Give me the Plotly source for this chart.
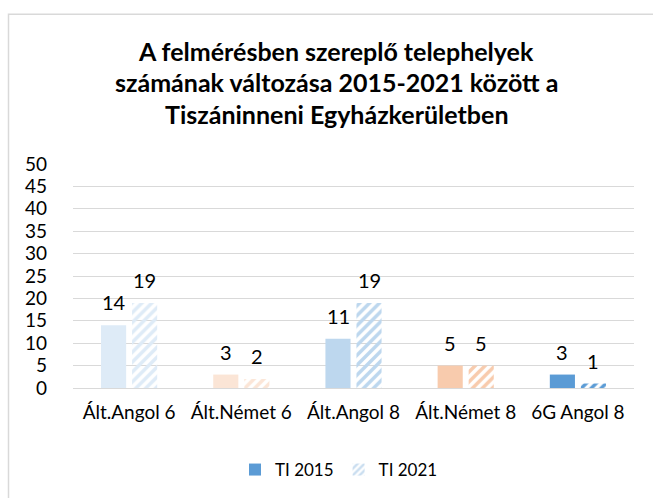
import plotly.graph_objects as go

categories = ["Ált.Angol 6", "Ált.Német 6", "Ált.Angol 8", "Ált.Német 8", "6G Angol 8"]
ti2015 = [14, 3, 11, 5, 3]
ti2021 = [19, 2, 19, 5, 1]
series_names = ["TI 2015", "TI 2021"]
title_lines = ["A felmérésben szereplő telephelyek",
               "számának változása 2015-2021 között a",
               "Tiszáninneni Egyházkerületben"]
y_ticks = list(range(0, 55, 5))

cat_colors = ["#DEEBF7", "#FBE5D6", "#BDD7EE", "#F8CBAD", "#5B9BD5"]
legend_colors = ["#5B9BD5", "#C9DDF0"]
FONT = "Lato"

W, H = 653, 498
L, R, T, B = 73, 19, 164, 109
pw, ph = W - L - R, H - T - B


def px_x(p):
    return (p - L) / pw


def px_y(p):
    return (H - B - p) / ph


fig = go.Figure()

pattern = dict(shape="/", fgcolor=cat_colors, bgcolor="white",
               fillmode="replace", size=7, solidity=0.5)

fig.add_bar(x=categories, y=ti2015, marker=dict(color=cat_colors, line_width=0),
            offsetgroup="a", showlegend=False, name=series_names[0], hoverinfo="skip")
fig.add_bar(x=categories, y=ti2021, marker=dict(color=cat_colors, line_width=0, pattern=pattern),
            offsetgroup="b", showlegend=False, name=series_names[1], hoverinfo="skip")

# legend entries
fig.add_bar(x=[categories[0]], y=[None], name=series_names[0],
            marker=dict(color=legend_colors[0], line_width=0), offsetgroup="a")
fig.add_bar(x=[categories[0]], y=[None], name=series_names[1],
            marker=dict(color=legend_colors[1], line_width=0,
                        pattern=dict(shape="/", fgcolor=legend_colors[1], bgcolor="white",
                                     fillmode="replace", size=6, solidity=0.5)),
            offsetgroup="b")

annotations = []
for c, v in zip(categories, ti2015):
    annotations.append(dict(x=c, y=v, xref="x", yref="y", text=str(v), showarrow=False,
                            xshift=-15.5, yshift=23, yanchor="middle",
                            font=dict(family=FONT, size=20, color="#000000")))
for c, v in zip(categories, ti2021):
    annotations.append(dict(x=c, y=v, xref="x", yref="y", text=str(v), showarrow=False,
                            xshift=15.5, yshift=23, yanchor="middle",
                            font=dict(family=FONT, size=20, color="#000000")))

for i, (line, ypx) in enumerate(zip(title_lines, [50, 82, 114])):
    annotations.append(dict(x=px_x(336), y=px_y(ypx), xref="paper", yref="paper",
                            text="<b>%s</b>" % line, showarrow=False,
                            xanchor="center", yanchor="middle",
                            font=dict(family=FONT, size=25, color="#000000")))

fig.update_layout(
    width=W, height=H,
    margin=dict(l=L, r=R, t=T, b=B, pad=0),
    paper_bgcolor="white", plot_bgcolor="white",
    barmode="group", bargap=0.447, bargroupgap=0.19,
    font=dict(family=FONT, size=16, color="#000000"),
    annotations=annotations,
    showlegend=True,
    legend=dict(orientation="h", x=px_x(339), y=px_y(470), xanchor="center", yanchor="middle",
                font=dict(family=FONT, size=17, color="#000000"), traceorder="normal"),
    shapes=[dict(type="rect", xref="paper", yref="paper",
                 x0=px_x(8.5), x1=px_x(670), y0=px_y(510), y1=px_y(13.5),
                 line=dict(color="#D9D9D9", width=1.5), fillcolor="rgba(0,0,0,0)", layer="below")],
)

fig.update_xaxes(showgrid=False, showline=False, zeroline=False, ticks="",
                 ticklabelstandoff=11, tickfont=dict(family=FONT, size=19))
fig.update_yaxes(range=[0, 50], tickvals=y_ticks, showgrid=True, gridcolor="#D9D9D9",
                 gridwidth=1, zeroline=True, zerolinecolor="#D9D9D9", zerolinewidth=1,
                 showline=False, ticks="", ticklabelstandoff=25,
                 tickfont=dict(family=FONT, size=19))

fig.write_html("out.html", post_script="document.body.style.margin='0';",
               config={"displayModeBar": False})
